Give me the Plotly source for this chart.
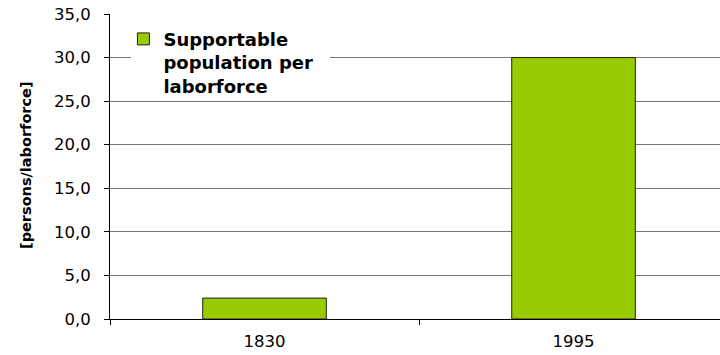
import plotly.graph_objects as go

categories = ["1830", "1995"]
values = [2.4, 30.0]
series_name = "Supportable<br>population per<br>laborforce"
y_title = "[persons/laborforce]"
y_ticks = [0, 5, 10, 15, 20, 25, 30, 35]

fig = go.Figure()
fig.add_trace(go.Bar(
    x=categories, y=values, name=series_name, width=0.4,
    marker=dict(color="#99CC00", line=dict(color="#222222", width=1)),
    showlegend=True,
))

fig.update_layout(
    width=720, height=355,
    margin=dict(l=110, r=0, t=14, b=36, pad=0),
    paper_bgcolor="white", plot_bgcolor="white",
    separators=",.",
    font=dict(family="DejaVu Sans", size=16, color="black"),
    bargap=0.6,
    legend=dict(
        x=0.022, y=0.978, xanchor="left", yanchor="top",
        bgcolor="rgba(0,0,0,0)", borderwidth=0, valign="top",
        font=dict(family="DejaVu Sans", size=18, color="black", weight="bold"),
    ),
    showlegend=True,
)
# white legend box (covers gridlines behind the legend)
fig.add_shape(
    type="rect", xref="paper", yref="paper",
    x0=0.0344, x1=0.3607, y0=0.735, y1=0.961,
    fillcolor="white", line=dict(width=0), layer="above",
)
fig.update_xaxes(
    type="category", range=[-0.5, 1.474], tickson="boundaries",
    showline=True, linecolor="black", linewidth=1,
    ticks="outside", ticklen=5, tickcolor="black",
    showgrid=False, tickfont=dict(size=16.5),
    ticklabelstandoff=7,
)
fig.update_yaxes(
    range=[0, 35], tickvals=y_ticks, tickformat=".1f",
    showline=True, linecolor="black", linewidth=1,
    ticks="outside", ticklen=5, tickcolor="black",
    showgrid=True, gridcolor="#777777", gridwidth=1,
    zeroline=False, tickfont=dict(size=16.5),
    ticklabelstandoff=10,
)
fig.add_annotation(
    text=y_title, textangle=-90, xref="paper", yref="paper",
    x=-0.1377, y=0.505, xanchor="center", yanchor="middle", showarrow=False,
    font=dict(family="DejaVu Sans", size=14.5, color="black", weight="bold"),
)
fig.write_html("out.html")
